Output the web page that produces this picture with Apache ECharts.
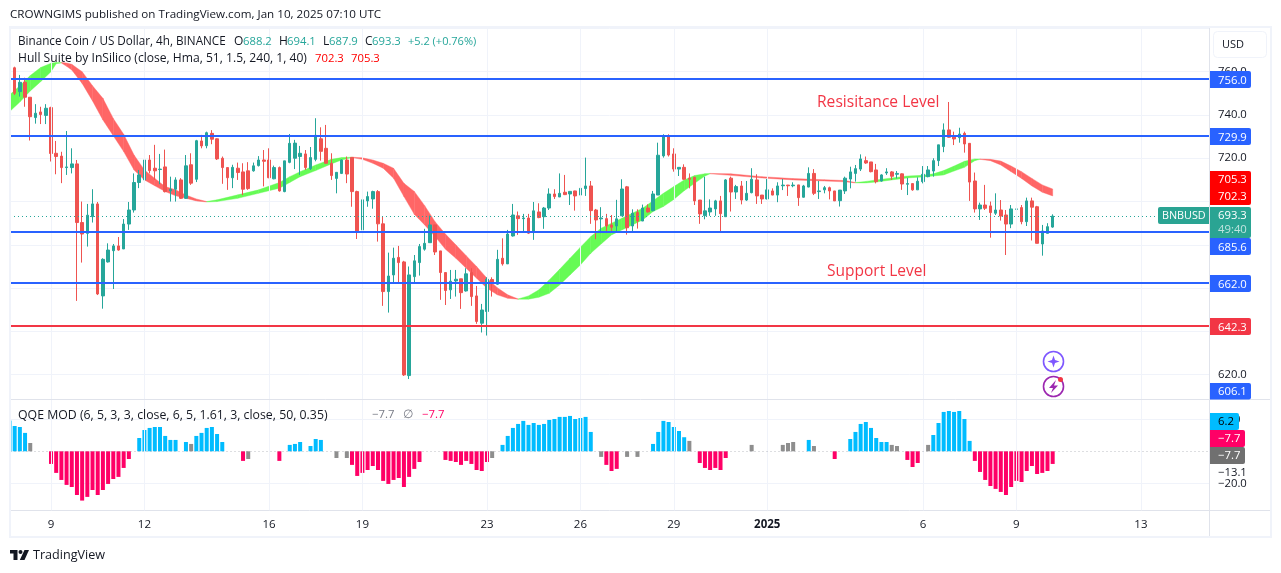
<!DOCTYPE html>
<html><head><meta charset="utf-8">
<style>html,body{margin:0;padding:0;background:#fff}#c{width:1281px;height:573px}</style>
<script src="https://cdn.jsdelivr.net/npm/echarts@6/dist/echarts.min.js"></script>
</head><body><div id="c"></div>
<script>
// ---- data ----
const firstBar = -8; // bars are 4h, bar 0 = Dec 9 00:00
// rows: open, high, low, close
const candles = [
[756.2,761,756,761],[761.8,762.3,749.2,750],[750.8,758.5,748.5,755.1],[755.1,757.2,743.8,748.2],
[748.2,748.2,728.2,739.2],[738.8,745,736,740.8],[741.4,743.8,735.8,740.2],[739.8,745,735.8,743.1],
[743.4,743.8,718.5,722.2],[722.3,728,712.6,720.8],[721,723,708.5,715.7],[715.7,732.6,712.3,716],
[715.7,724.6,713,717.4],[717.4,719.2,654.1,690.3],[690.3,700,671.8,685],[685.3,698.9,679.2,693.7],
[693,705.7,690.3,698.9],[698.9,699.8,656.8,657.3],[656.4,673.8,650.5,673.3],[672.1,680.7,671.8,677.6],
[677.3,680.4,659.6,679.5],[679.5,683.6,677.3,677.6],[678.1,691.9,678.1,689.6],[689.6,699.8,686.9,696.1],
[696.1,713,694.9,708.8],[708.8,714.6,706.2,712.3],[710,724.6,709.2,719.2],[719.2,721.5,713,714.3],
[715.4,726.2,710,714.2],[714.8,722,708,715],[716,724,704.2,704.6],[705,711.5,700,705.6],
[705.7,711.2,700,710],[710,710.8,701.2,701.5],[701.5,721.5,701.2,716.5],[717,722.3,707.7,708.5],
[710.3,728.5,709,728.1],[728,730.8,724.6,725.7],[725.8,732.3,724.6,731.8],[731.5,733,726.5,728.8],
[729,729.2,719.2,719.7],[720,720.8,708.2,715.7],[715.7,715.7,705.4,711],[711,717,706.2,715.8],
[715.4,718,710,713.4],[713.7,717.7,703,705.7],[714.2,718.2,705.4,706],[714.2,718,713.8,716.5],
[716.6,721,716.2,719.2],[719.2,723.8,707,718.6],[719.2,724.6,710.8,711],[710.5,716.6,710.3,715.7],
[715.7,716.2,704.6,704.9],[704.6,718.8,704.3,718.8],[718.1,731.2,717.7,726.9],[720,728.5,715,727],
[720.8,725.7,712.3,722.3],[722,723.8,714.6,715.7],[715.2,725.2,714.6,720.3],[719.5,738.5,718.6,730.6],
[729,734.3,718.9,723.2],[724.6,735.4,717.7,717.7],[717.7,722.3,710,712],[710.7,713.5,703.8,713.5],
[713,719.5,712.7,719.2],[719.2,720.8,708.5,712.7],[720.4,720.4,697.6,704.6],[704.6,705,682.7,685.9],
[686.9,702,668.9,700.8],[700.3,704.6,697.6,702.3],[701.2,705,696.7,704.6],[704.6,705.3,681.5,689.7],
[689.7,693.3,651.8,658.4],[658.4,676.4,648.7,665.6],[666.1,678.7,662.2,673.8],[674.2,679.5,662.5,671.8],
[672.1,672.6,619.4,619.9],[619.6,670,618,666.1],[665.3,675.3,662.5,672.6],[671.8,680.4,665.8,679.2],
[678,687.4,677.3,680.7],[681,693.5,680.9,689.2],[689.2,689.2,675.3,676.7],[677.2,677.2,654.6,667.2],
[667.2,667.2,652.2,658.9],[659.2,668.4,655,663.2],[663.3,668.4,656.1,664.1],[664.3,664.3,650.4,657.9],
[658.7,669.2,658.4,666.6],[667.2,669.2,651.8,656.1],[656.4,661,643.5,644.6],[643.8,652.7,639.5,649.9],
[649.2,665,638.1,664.1],[664,665,656.1,662.3],[661.8,677.7,661.5,673.3],[673.8,683,670.4,671.2],
[671.2,686.9,671.2,685],[684.1,698.9,683.8,693.8],[693.4,695.4,684.6,692.1],[692.1,694.3,686.1,692.4],
[692.4,694.3,685,685.4],[686.1,699.8,682.3,695.7],[695.2,699.2,692.3,692.6],[693,697.5,687.4,697],
[697,706.1,696.1,703.5],[703.5,705.7,701.2,702.3],[702.1,713,702.1,703.8],[704.3,712.3,703,703.2],
[703.5,704.7,698.4,704.7],[704.9,705,695.8,702.6],[703,713,700.7,706.1],[706,720.3,702.6,707.2],
[707.2,709.5,689.7,695.8],[696.1,696.6,682.6,691.5],[692,697.4,685.4,692.4],[692.1,694.3,685.4,688.7],
[689.2,693.8,685.7,688.1],[688.7,700.8,685.7,692],[693.4,710.3,693.4,705.8],[706.8,707.2,684.7,687.9],
[688.7,696.4,685.7,694.6],[694.9,696.4,687.5,691],[691,698.6,691,697],[697,698.7,694.9,695.2],
[695.8,704.9,695.5,703.5],[703,727.2,703,721.4],[721.1,731.1,720.3,730],[730.5,731.1,720.8,721.5],
[722,724.6,713.8,715],[715,715.8,711.8,715.8],[715.8,717.2,710,710.3],[710.8,713,706.1,710.3],
[711.2,711.5,698.4,700.3],[700.7,700.7,689.7,694.3],[693.5,711.5,691.8,695.7],[695.2,701,693.4,697],
[696.6,700.8,693.4,700.3],[700.3,702.6,686.1,694.4],[693,710.4,693,710],[710.8,711.5,695.4,704.4],
[704.4,707.7,701.2,706.9],[707.2,709.5,698.7,700.7],[700.7,709.5,700.3,703.8],[704.1,715.4,703.8,710.3],
[710,712.6,698.9,702.6],[703,703,698.9,701.2],[701.2,710.4,701,705.4],[704.9,706.1,702.9,703],
[703,708.9,699.7,707.2],[707.3,710.4,705.3,707.6],[707.6,707.7,702.6,707.3],[707.3,708.9,706.6,707.6],
[707.7,707.7,698,701.8],[702,707.7,701.8,707.2],[706.7,715.8,706.6,713],[713,715,703,703.8],
[704.6,709.5,701.2,704.9],[705.4,707.2,703.8,706.4],[706.4,706.9,701,704.9],[704.9,704.9,700.3,700.3],
[700.4,705.3,697.7,705.3],[704.9,711.5,703.5,710.8],[710.4,716.1,706.1,713.7],[713,716.9,709.2,715.2],
[715,721.8,714.1,719.7],[718.9,720.8,717.4,717.8],[718.3,718.3,713.5,713.8],[714.6,717.4,708.4,709.2],
[709.5,712.6,709.2,712.3],[713.2,715.4,712.3,713.7],[713.7,714.1,710,711.7],[712.6,714.1,710.7,713],
[712.8,713,705.4,708.1],[708,711,703,708.3],[708.3,708.4,705,705.4],[705.4,711.2,705.4,709.4],
[709.2,716.4,708.4,712.6],[711.5,716.4,711.2,714.6],[714.1,720,711.5,718.9],[718.9,726.2,716.4,726.2],
[725.4,736.1,722.8,733.1],[733.1,746,729.5,729.7],[730.3,732.3,726.1,728.9],[729.5,734.1,727.2,731.2],
[731.5,732.3,722.6,726.6],[726.9,726.9,700.3,709],[709.5,713.4,694.9,696.6],[696.6,699.5,691.5,698.4],
[698.4,707.7,696.1,696.9],[698,700,683.3,694.9],[694.6,703.8,693.8,696.1],[696.1,700.7,691.2,693.3],
[693.8,696.1,675.3,689.6],[689.6,698.4,687.7,696.6],[696.4,701.2,690.7,696.6],[697.2,698.4,689.5,690.7],
[690.7,701.8,688.7,700.3],[700.3,701.8,682,697.4],[697.6,698,680.7,680.7],[680.4,689.2,675,686.4],
[685.3,690,685.3,688.4],[688.2,694.1,687.9,693.3]
];
// Hull band knots: bar, upper edge, lower edge
const hullKnots = [
[-8,749.2,741.5],[-6,753.5,746],[-4,758.2,751.1],[-2,761.9,755.4],[0,763.9,760],[1,764.3,763.7],[2,764.3,764],
[3,764,762.5],[4,763.4,760.8],[6,760,754.6],[8,753.5,746.5],[10,747.7,737.7],[12,738.4,730.4],[14,731.1,723.1],[16,721.5,714.6],[18,714.6,710],[20,710.7,707.3],[22,706.9,704.6],[24,705.4,702.7],[26,703,701.5],[28,701.2,700.3],[30,700,699.8],
[32,700.8,700],[36,703.1,701.5],[40,705.4,703.8],[44,708.8,706.2],[46,711.5,708.8],[48,713.8,711.5],[51,716.9,714.3],[54,719.5,717.4],[56,720.3,719.2],[58,720.5,720.3],
[60,720.2,719.5],[62,719.2,717.7],[64,717.7,715.4],[66,715.4,710.8],[68,708.4,702.3],[70,704.7,694.1],[72,698.1,689.2],[74,690.7,683.8],[76,685,678],[78,680,673.8],[80,675,669.2],[82,670,664.6],[84,664.6,660],[86,660.2,656.9],[88,656.9,655.3],[90,655,654.9],
[92,656.4,654.9],[94,659.2,655.8],[96,663.8,657.6],[98,668.7,661.5],[100,673.8,666.1],[102,678.9,670.7],[104,683.8,676.1],[106,687.7,680.4],[108,690,684.6],[110,692.3,686.9],[112,694.6,689.2],[114,696.9,691.5],[116,700.4,695.4],[118,703.8,697.7],[120,706.9,701],[122,710,705],[124,712,708.4],[126,712.9,711.8],[127,713,712.8],
[131,712.8,712.1],[137,711.5,710.9],[143,710.6,710],[149,710.1,709.5],[153,709.7,709.1],[155,708.8,708.6],
[157,709.3,708.6],[159,710,709],[162,710.9,710],[165,711.8,710.9],[168,712.1,711.4],[170,712.8,711.8],[172,714.3,712.3],[174,716.4,714.1],[176,718.6,715.8],[178,719.7,718.9],[179,719.7,719.5],
[181,719.5,718.9],[183,718.7,716.9],[185,716.4,713.8],[187,713.8,710.7],[189,710.7,707.2],[191,707.7,704.3],[193,705.8,702.6]
];
// where each trend run ends: [last knot bar, direction]
const hullTrendRuns = [[2,'up'],[30,'down'],[58,'up'],[90,'down'],[127,'up'],[155,'down'],[179,'up'],[193,'down']];

const qqeBlue = [[-8,19.2],[-7,15.8],[-6,15.2],[-5,11.5],[17,8.3],[18,13.3],[19,14.6],[20,15.2],[21,15.2],[22,9.6],[23,7.1],[24,7.1],[26,5.8],[28,9.6],[29,11.5],[30,14.6],[31,15.2],[32,10.8],[33,5.8],[46,4],[47,4.6],[48,5.8],[50,3.3],[51,7.7],[52,7.1],[87,4],[88,9.6],[89,14.6],[90,17.1],[91,19],[92,16.5],[93,17.7],[94,16.5],[95,17.1],[96,19.6],[97,20.2],[98,21.5],[99,21.5],[100,22.1],[101,20.2],[102,20.8],[103,21.5],[104,12.1],[116,4.6],[117,12.1],[118,19],[119,18.3],[120,15.2],[121,12.7],[122,8.8],[146,7.1],[154,7.7],[155,12.1],[156,17.1],[157,18.3],[158,14.6],[159,8.3],[160,5.8],[161,5.8],[170,10.2],[171,17.7],[172,24.6],[173,25.2],[174,24.6],[175,25.2],[176,20.2],[177,6.5]];
const qqePink = [[0,-7.9],[1,-13.5],[2,-17.9],[3,-21],[4,-22.3],[5,-27.3],[6,-30.8],[7,-28.5],[8,-24.2],[9,-27.3],[10,-24.2],[11,-20.4],[12,-17.3],[13,-16],[14,-10.4],[15,-4.8],[37,-6],[44,-6],[58,-8.5],[59,-15.4],[60,-13.5],[61,-11.7],[62,-9.2],[63,-11.7],[64,-18.5],[65,-20.4],[66,-17.9],[67,-16.7],[68,-22.3],[69,-16],[70,-11],[71,-6.7],[76,-5.4],[77,-6],[78,-6.7],[79,-8.5],[80,-6],[81,-7.9],[82,-11.7],[83,-12.3],[84,-6.7],[107,-8.5],[108,-12.3],[109,-11],[125,-7.3],[126,-10.4],[127,-11.7],[128,-10.4],[129,-11.7],[130,-4.2],[151,-4.8],[165,-5.4],[166,-9.8],[167,-7.3],[178,-6],[179,-12.9],[180,-17.9],[181,-21.7],[182,-23.5],[183,-25.4],[184,-27.3],[185,-22.3],[186,-18.5],[187,-19.2],[188,-12.3],[189,-9.2],[190,-14.2],[191,-13.5],[192,-12.3],[193,-7.9]];
const qqeGrey = [[-4,5.2],[27,4.6],[38,-4.8],[55,-4.2],[57,-4.2],[85,-4.2],[106,-3.5],[111,-3.5],[113,-3.5],[123,6.5],[135,4],[141,4],[142,5.2],[143,5.8],[147,3.3],[162,4],[163,3.3],[169,4]];

const dayTickBars = [0,18,42,60,84,102,120,138,168,186,210];
const dayTickLabels = ['9','12','16','19','23','26','29','2025','6','9','13'];
const lastPrice = 693.3;
const blueLevels = [756.6,730.4,686,662.3];   // drawn height of the lines
const redLevels = [642.5];

// ---- colours and layout ----
const UP='#26a69a',DOWN='#ef5350',BLUE='#2962ff',RED='#f23645',INK='#131722',GRID='#f0f3fa',SEP='#e0e3eb',TEAL='#2aa493';
const FONT='"Open Sans", "Noto Sans", sans-serif';
const xMin=-7.9,xMax=223.12;
const L=10,R=72;
const NUM=11.3;

function txt(x,y,text,color,size){return {type:'text',x:x,y:y+1,z:50,silent:true,
  style:{text:text,fill:color||INK,font:(size||12)+'px '+FONT,textVerticalAlign:'middle',textAlign:'left'}};}
function box(x,y,w,h,bg){return {type:'rect',z:40,silent:true,shape:{x:x,y:y,width:w,height:h,r:[0,2,2,0]},style:{fill:bg}};}
function priceBox(y,h,label,bg,fg){return [box(1210,y,41,h,bg),txt(1218,y+h/2,label,fg||'#fff',NUM)];}

const graphics=[].concat(
  [{type:'rect',z:20,silent:true,shape:{x:0,y:60,width:9,height:450},style:{fill:'#fff'}},
   {type:'rect',z:21,silent:true,shape:{x:10,y:27,width:1261,height:510},style:{fill:'none',stroke:GRID,lineWidth:2}},
   {type:'line',z:30,silent:true,shape:{x1:1209.5,y1:28,x2:1209.5,y2:536},style:{stroke:SEP,lineWidth:1}},
   {type:'line',z:30,silent:true,shape:{x1:11,y1:399.5,x2:1270,y2:399.5},style:{stroke:SEP,lineWidth:1}},
   {type:'line',z:30,silent:true,shape:{x1:1209,y1:510.5,x2:1270,y2:510.5},style:{stroke:SEP,lineWidth:1}},
   {type:'rect',z:30,silent:true,shape:{x:1213.5,y:31.5,width:53,height:26,r:4},style:{fill:'#fff',stroke:GRID,lineWidth:1}},
   txt(1222,43.5,'USD',INK,11),
   txt(10,14,'CROWNGIMS published on TradingView.com, Jan 10, 2025 07:10 UTC',INK,11.65),
   txt(18,41,'Binance Coin / US Dollar, 4h, BINANCE',INK,11.7),
   txt(234,41,'O',INK,12),txt(243,41,'688.2',UP,NUM),txt(279,41,'H',INK,12),txt(287,41,'694.1',UP,NUM),
   txt(323,41,'L',INK,12),txt(329,41,'687.9',UP,NUM),txt(365,41,'C',INK,12),txt(372,41,'693.3',UP,NUM),
   txt(408,41,'+5.2 (+0.76%)',UP,11),
   txt(18,58,'Hull Suite by InSilico (close, Hma, 51, 1.5, 240, 1, 40)',INK,12.1),
   txt(315,58,'702.3','#ff0000',NUM),txt(351,58,'705.3','#ff0000',NUM),
   txt(18,414,'QQE MOD (6, 5, 3, 3, close, 6, 5, 1.61, 3, close, 50, 0.35)',INK,12.3),
   txt(372,414,'\u22127.7','#787b86',NUM),txt(403,414,'\u2205','#787b86',12),txt(422,414,'\u22127.7','#ff0066',NUM),
   txt(817,101.5,'Resisitance Level',RED,15.6),
   txt(827,270.5,'Support Level',RED,15.5),
   {type:'rect',z:40,silent:true,shape:{x:1158,y:207,width:51,height:17,r:[2,0,0,2]},style:{fill:TEAL}},
   txt(1162,214.5,'BNBUSD','#fff',10.8)],
  priceBox(71,17,'756.0',BLUE),priceBox(128,17,'729.9',BLUE),
  [box(1210,171,41,34,'#ff0000'),txt(1218,179,'705.3','#fff',NUM),txt(1218,196,'702.3','#fff',NUM)],
  [box(1210,207,41,31,TEAL),txt(1218,214.5,'693.3','#fff',NUM),txt(1218,229,'49:40','rgba(255,255,255,.7)',NUM)],
  priceBox(238,17,'685.6',BLUE),priceBox(275,17,'662.0',BLUE),priceBox(318,17,'642.3',RED),priceBox(383,16.5,'606.1',BLUE),
  [box(1210,413,29,17,'#00bcff'),txt(1218,420.5,'6.2','#000',NUM),
   box(1210,430,35,17,'#ff0066'),txt(1218,437.5,'\u22127.7','#fff',NUM),
   box(1210,447,35,17,'#707070'),txt(1218,454.5,'\u22127.7','#fff',NUM),
   txt(1218,471.7,'\u221213.1',INK,NUM)],
  // round action icons
  [{type:'circle',z:35,silent:true,shape:{cx:1053.5,cy:361.5,r:10},style:{fill:'#fff',stroke:'#7e57ff',lineWidth:1.6}},
   {type:'polygon',z:36,silent:true,shape:{points:[[1053.5,355.5],[1055,360],[1059.5,361.5],[1055,363],[1053.5,367.5],[1052,363],[1047.5,361.5],[1052,360]]},style:{fill:'#7e57ff'}},
   {type:'circle',z:35,silent:true,shape:{cx:1053.5,cy:386.5,r:10},style:{fill:'#fff',stroke:'#9c27b0',lineWidth:1.6}},
   {type:'polygon',z:36,silent:true,shape:{points:[[1056,380],[1049,388],[1053,388],[1051,393],[1058,385.5],[1054,385.5]]},style:{fill:'#9c27b0'}},
   {type:'circle',z:37,silent:true,shape:{cx:1060.5,cy:379.5,r:2.5},style:{fill:'#f23645'}}],
  // TradingView mark
  [{type:'polygon',z:30,silent:true,shape:{points:[[10,550],[17.5,550],[17.5,560],[13.5,560],[13.5,553.5],[10,553.5]]},style:{fill:INK}},
   {type:'circle',z:30,silent:true,shape:{cx:20.5,cy:552,r:2},style:{fill:INK}},
   {type:'polygon',z:30,silent:true,shape:{points:[[24.5,550],[29,550],[24.5,560],[19.8,560]]},style:{fill:INK}},
   txt(33,554.5,'TradingView',INK,12.6)]
);

// ---- series data built from the lists ----
const candleData = candles.map((r,k)=>[firstBar+k,r[0],r[3],r[2],r[1]]);
function trendOf(bar){for(const t of hullTrendRuns){if(bar<=t[0])return t[1];}return 'down';}
const hullData = hullKnots.slice(0,-1).map((a,k)=>{const b=hullKnots[k+1];return [a[0],a[1],a[2],b[0],b[1],b[2],trendOf(b[0])==='up'?1:0];});
const HULL_UP='#66fb55',HULL_DN='#ff6666';
const qqeData = [].concat(
  qqeBlue.map(d=>({value:d,itemStyle:{color:'#00bcff'}})),
  qqePink.map(d=>({value:d,itemStyle:{color:'#ff0066'}})),
  qqeGrey.map(d=>({value:d,itemStyle:{color:'#8e8e8e'}})));

const hiddenX=(idx)=>({type:'value',gridIndex:idx,min:xMin,max:xMax,show:false,splitLine:{show:false}});
const option={
  animation:false,backgroundColor:'#fff',textStyle:{fontFamily:FONT},
  grid:[
    {left:L,right:R,top:28.4,height:346.3},
    {left:L,right:R,top:419.3,height:64},
    {left:L,right:R,top:28,height:482.3}
  ],
  xAxis:[
    hiddenX(0),
    {type:'value',gridIndex:1,min:xMin,max:xMax,offset:27,position:'bottom',
      splitLine:{show:false},axisTick:{show:false},
      axisLine:{show:true,onZero:false,lineStyle:{color:SEP,width:1}},
      axisLabel:{customValues:dayTickBars,margin:8,color:INK,fontSize:11.5,fontFamily:FONT,hideOverlap:false,showMinLabel:true,showMaxLabel:true,
        rich:{b:{fontWeight:'bold',fontSize:11.5,color:INK,fontFamily:FONT}},
        formatter:v=>{const s=dayTickLabels[dayTickBars.indexOf(v)];return s==='2025'?'{b|2025}':s;}}},
    hiddenX(2)
  ],
  yAxis:[
    {type:'value',gridIndex:0,position:'right',min:620,max:780,interval:20,
      splitLine:{show:true,lineStyle:{color:GRID,width:1}},axisLine:{show:false},axisTick:{show:false},
      axisLabel:{margin:9,color:INK,fontSize:NUM,fontFamily:FONT,align:'left',formatter:v=>v===780?'':v.toFixed(1)}},
    {type:'value',gridIndex:1,position:'right',min:-20,max:20,interval:20,
      splitLine:{show:true,lineStyle:{color:[GRID,'rgba(0,0,0,0)',GRID],width:1}},axisLine:{show:false},axisTick:{show:false},
      axisLabel:{margin:9,color:INK,fontSize:NUM,fontFamily:FONT,align:'left',formatter:v=>(v<0?'\u2212':'')+Math.abs(v).toFixed(1)}},
    {type:'value',gridIndex:2,min:0,max:1,show:false,splitLine:{show:false}}
  ],
  series:[
    {name:'days',type:'line',xAxisIndex:2,yAxisIndex:2,z:1,data:[],symbol:'none',silent:true,
      markLine:{silent:true,symbol:'none',label:{show:false},animation:false,
        lineStyle:{color:GRID,width:1,type:'solid'},data:dayTickBars.map(b=>({xAxis:b}))}},
    {name:'hull',type:'custom',xAxisIndex:0,yAxisIndex:0,z:3,silent:true,clip:true,data:hullData,
      encode:{x:[0,3],y:[1,2,4,5]},
      renderItem:(params,api)=>{
        const p=[api.coord([api.value(0),api.value(1)]),api.coord([api.value(3),api.value(4)]),
                 api.coord([api.value(3),api.value(5)]),api.coord([api.value(0),api.value(2)])];
        const c=api.value(6)?HULL_UP:HULL_DN;
        return {type:'polygon',shape:{points:p},style:{fill:c,stroke:c,lineWidth:0.4}};
      }},
    {name:'BNBUSD',type:'candlestick',xAxisIndex:0,yAxisIndex:0,z:4,clip:false,silent:true,barWidth:3,layout:'horizontal',
      encode:{x:0,y:[1,2,3,4]},data:candleData,
      itemStyle:{color:UP,color0:DOWN,borderColor:UP,borderColor0:DOWN,borderWidth:1}},
    {name:'levels',type:'line',xAxisIndex:0,yAxisIndex:0,z:5,data:[],symbol:'none',silent:true,
      markLine:{silent:true,symbol:'none',label:{show:false},animation:false,data:[].concat(
        blueLevels.map(v=>({yAxis:v,lineStyle:{color:BLUE,width:2,type:'solid'}})),
        redLevels.map(v=>({yAxis:v,lineStyle:{color:RED,width:2,type:'solid'}})),
        [{yAxis:lastPrice,lineStyle:{color:UP,width:1,type:[1,3]}}])}},
    {name:'QQE',type:'bar',xAxisIndex:1,yAxisIndex:1,z:4,clip:false,barWidth:4,silent:true,data:qqeData,
      markLine:{silent:true,symbol:'none',label:{show:false},animation:false,
        lineStyle:{color:'rgba(120,123,134,.25)',width:1,type:[2,2]},data:[{yAxis:0}]}}
  ],
  graphic:{elements:graphics}
};
const chart=echarts.init(document.getElementById('c'),null,{renderer:'canvas'});
chart.setOption(option);
</script></body></html>
